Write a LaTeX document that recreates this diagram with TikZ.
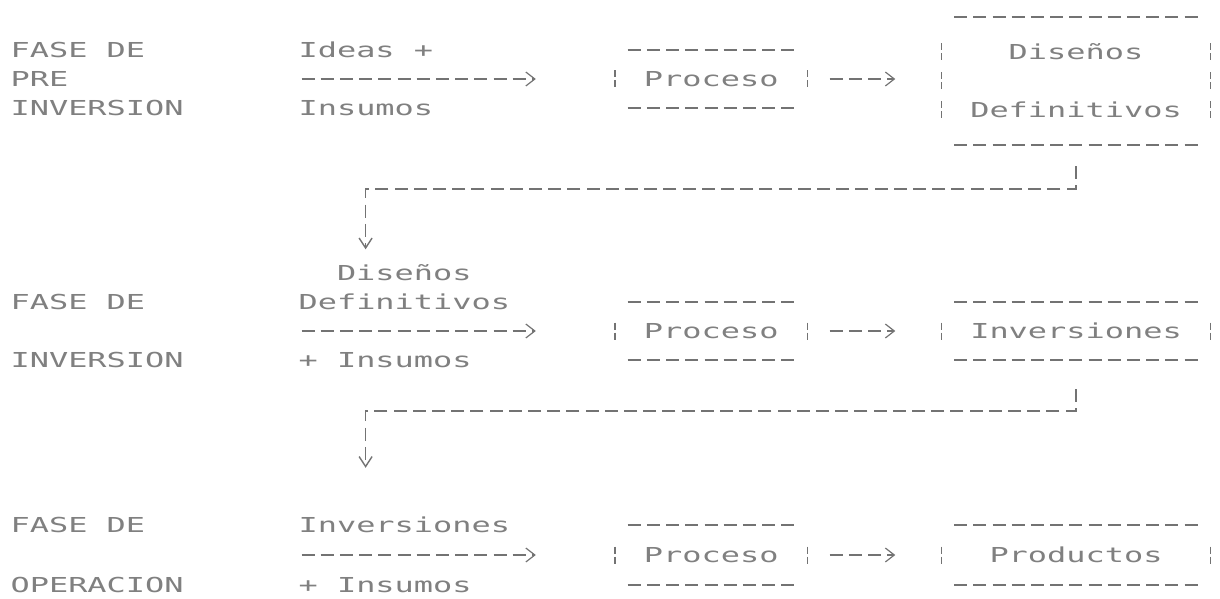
\documentclass[tikz,border=0pt]{standalone}
\usepackage{fontspec}
\usetikzlibrary{arrows.meta,calc}
\newfontfamily\dotfont[FakeStretch=1.55]{DejaVu Sans Mono}
\definecolor{ink}{gray}{0.5}
\definecolor{rule}{gray}{0.45}

\tikzset{
  txt/.style={font=\fontsize{20.6pt}{29pt}\dotfont, text=ink, inner sep=0pt},
  lbl/.style={txt, anchor=west, text height=15pt, text depth=0pt},
  proc/.style={txt, text height=15pt, text depth=0pt, minimum width=211.2pt, minimum height=58pt},
  outbox/.style={txt, align=center, minimum width=288pt, minimum height=58pt},
  dashline/.style={draw=rule, line width=1.6pt, dash pattern=on 13pt off 6.2pt},
  barline/.style={draw=rule, line width=1.6pt, dash pattern=on 7pt off 3pt on 7pt off 12pt},
  conn/.style={dashline, -{Straight Barb[length=9pt,width=14pt,line width=1.2pt,sep=#1]}},
  conn/.default=8pt,
  down/.style={dashline, -{Straight Barb[length=10pt,width=13pt,line width=1.4pt]}}
}

\begin{document}
\begin{tikzpicture}[x=1pt,y=-1pt]
\useasboundingbox (0,0) rectangle (1220,599);

\node[lbl] (f1a) at (10.4,50) {FASE DE};
\node[lbl] (f1b) at (10.4,79) {PRE};
\node[lbl] (f1c) at (10.4,108) {INVERSION};
\node[lbl] (f2a) at (10.4,302) {FASE DE};
\node[lbl] (f2c) at (10.4,360) {INVERSION};
\node[lbl] (f3a) at (10.4,525) {FASE DE};
\node[lbl] (f3c) at (10.4,585) {OPERACION};

\node[lbl] (i1a) at (298.4,50) {Ideas +};
\node[lbl] (i1c) at (298.4,108) {Insumos};
\node[lbl] (i2o) at (336.8,273) {Diseños};
\node[lbl] (i2a) at (298.4,302) {Definitivos};
\node[lbl] (i2c) at (298.4,360) {+ Insumos};
\node[lbl] (i3a) at (298.4,525) {Inversiones};
\node[lbl] (i3c) at (298.4,585) {+ Insumos};

\node[proc] (p1) at (711.2,79) {Proceso};
\node[proc] (p2) at (711.2,331) {Proceso};
\node[proc, minimum height=60pt] (p3) at (711.2,555) {Proceso};
\node[outbox, minimum height=128pt] (d1) at (1076,81) {Diseños\\[29pt]Definitivos};
\node[outbox] (v1) at (1076,331) {Inversiones};
\node[outbox, minimum height=60pt] (r1) at (1076,555) {Productos};

\foreach \b in {p1,p2,p3,d1,v1,r1} {
  \draw[dashline] ($(\b.north west)+(22.3,0)$) -- ($(\b.north east)+(-22.3,0)$);
  \draw[dashline] ($(\b.south west)+(22.3,0)$) -- ($(\b.south east)+(-22.3,0)$);
}
\foreach \b in {p1,p2,p3,v1,r1} {
  \draw[barline] ($(\b.west)+(9.6,-8.5)$) -- ($(\b.west)+(9.6,8.5)$);
  \draw[barline] ($(\b.east)+(-9.6,-8.5)$) -- ($(\b.east)+(-9.6,8.5)$);
}
\draw[barline] ($(d1.west)+(9.6,-37.5)$) -- ($(d1.west)+(9.6,37.5)$);
\draw[barline] ($(d1.east)+(-9.6,-37.5)$) -- ($(d1.east)+(-9.6,37.5)$);

\draw[conn, shorten <=3.1pt, shorten >=61.6pt] (i1a.west |- p1) -- (p1);
\draw[conn=12.5pt, shorten <=12.7pt, shorten >=24pt] (p1.east) -- (p1.east -| d1.west);
\draw[conn, shorten <=3.1pt, shorten >=61.6pt] (i2a.west |- p2) -- (p2);
\draw[conn=12.5pt, shorten <=12.7pt, shorten >=24pt] (p2.east) -- (v1.west);
\draw[conn, shorten <=3.1pt, shorten >=61.6pt] (i3a.west |- p3) -- (p3);
\draw[conn=12.5pt, shorten <=12.7pt, shorten >=24pt] (p3.east) -- (r1.west);

\coordinate (k1) at (365.6,189);
\coordinate (k2) at (365.6,411);
\draw[down] ($(d1.south)+(0,21)$) |- (k1) -- ($(k1 |- i2o.north)+(0,-16)$);
\draw[down] ($(v1.south)+(0,29)$) |- (k2) -- ($(k2 |- i3a.north)+(0,-49.5)$);

\end{tikzpicture}
\end{document}
